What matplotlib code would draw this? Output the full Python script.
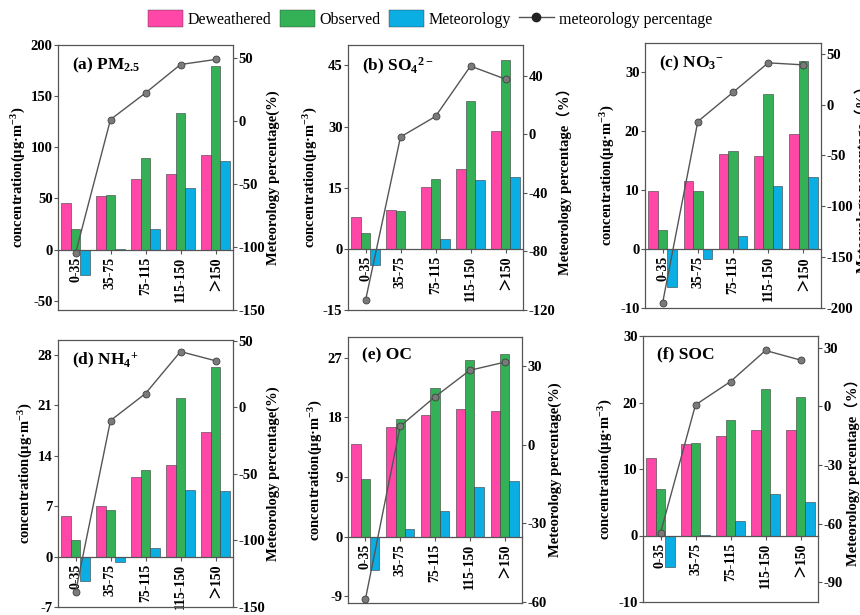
import numpy as np
import matplotlib
matplotlib.use("Agg")
import matplotlib.pyplot as plt
from matplotlib.patches import Patch
from matplotlib.lines import Line2D

plt.rcParams['font.family'] = ['Liberation Serif', 'Noto Sans CJK SC']
plt.rcParams['font.weight'] = 'bold'
plt.rcParams['axes.unicode_minus'] = False
plt.rcParams['mathtext.fontset'] = 'custom'
plt.rcParams['mathtext.rm'] = 'Liberation Serif:bold'
plt.rcParams['mathtext.it'] = 'Liberation Serif:bold'
plt.rcParams['mathtext.bf'] = 'Liberation Serif:bold'

categories = ['0-35', '35-75', '75-115', '115-150', '＞150']

# values
pm25_dew = [45.5, 52.7, 69, 74, 92.4]
pm25_obs = [20, 53, 90, 134, 179.5]
pm25_met = [-24.4, 0.6, 20, 60, 87]
pm25_pct = [-105, 1.3, 22.4, 45, 49]

so4_dew = [7.8, 9.5, 15.2, 19.6, 28.9]
so4_obs = [3.8, 9.2, 17.2, 36.3, 46.2]
so4_met = [-3.9, -0.1, 2.3, 16.8, 17.5]
so4_pct = [-113.5, -1.8, 12.2, 46.6, 37.7]

no3_dew = [9.8, 11.5, 16.1, 15.8, 19.5]
no3_obs = [3.3, 9.8, 16.7, 26.4, 32.0]
no3_met = [-6.4, -1.6, 2.2, 10.7, 12.2]
no3_pct = [-195, -16.7, 12, 41, 39]

nh4_dew = [5.7, 7.1, 11.0, 12.7, 17.3]
nh4_obs = [2.3, 6.5, 12.1, 22.1, 26.4]
nh4_met = [-3.4, -0.7, 1.2, 9.3, 9.1]
nh4_pct = [-139, -10, 10.3, 41.8, 34.9]

oc_dew = [13.9, 16.5, 18.4, 19.2, 19.0]
oc_obs = [8.7, 17.8, 22.4, 26.7, 27.5]
oc_met = [-5.1, 1.2, 3.9, 7.5, 8.4]
oc_pct = [-59, 7.0, 18.2, 28.3, 31.4]

soc_dew = [11.7, 13.7, 15.0, 15.8, 15.8]
soc_obs = [7.0, 13.9, 17.4, 22.1, 20.9]
soc_met = [-4.8, 0.1, 2.2, 6.3, 5.1]
soc_pct = [-64.7, 0.8, 12.7, 28.6, 23.7]

titles = ['(a) PM$_{2.5}$', '(b) SO$_4$$^{2-}$', '(c) NO$_3$$^{-}$',
          '(d) NH$_4$$^{+}$', '(e) OC', '(f) SOC']
right_labels = ['Meteorology percentage(%)', 'Meteorology percentage（%）',
                'Meteorology percentage（%）', 'Meteorology percentage(%)',
                'Meteorology percentage(%)', 'Meteorology percentage（%）']

PINK = '#FF47A8'
GREEN = '#34B157'
BLUE = '#0BAEE3'
SPINE = '#555555'

# axes boxes in pixels: left, top, right, bottom
boxes = [(58, 45, 233, 310), (348, 45, 523, 310), (645, 43, 821, 308),
         (58, 340, 233, 607), (348, 337, 522, 603), (643, 336, 818, 602)]
left_lims = [(-59, 200), (-15, 50), (-10, 35), (-7, 30.1), (-10, 30.1), (-10, 30)]
right_lims = [(-150, 60.5), (-120, 61), (-200, 60.5), (-150, 50.5), (-60.4, 41), (-100, 36)]
left_ticks = [[-50, 0, 50, 100, 150, 200], [-15, 0, 15, 30, 45], [-10, 0, 10, 20, 30],
              [-7, 0, 7, 14, 21, 28], [-9, 0, 9, 18, 27], [-10, 0, 10, 20, 30]]
right_ticks = [[-150, -100, -50, 0, 50], [-120, -80, -40, 0, 40],
               [-200, -150, -100, -50, 0, 50], [-150, -100, -50, 0, 50],
               [-60, -30, 0, 30], [-90, -60, -30, 0, 30]]

panels = [(pm25_dew, pm25_obs, pm25_met, pm25_pct),
          (so4_dew, so4_obs, so4_met, so4_pct),
          (no3_dew, no3_obs, no3_met, no3_pct),
          (nh4_dew, nh4_obs, nh4_met, nh4_pct),
          (oc_dew, oc_obs, oc_met, oc_pct),
          (soc_dew, soc_obs, soc_met, soc_pct)]

W, H = 860, 615
fig = plt.figure(figsize=(8.6, 6.15), dpi=100)

x = np.arange(len(categories))
w = 0.27

for i, (dew, obs, met, pct) in enumerate(panels):
    l, t, r, b = boxes[i]
    ax = fig.add_axes([l / W, 1 - b / H, (r - l) / W, (b - t) / H])
    ax.bar(x - w, dew, w, color=PINK, edgecolor='#3a3a3a', linewidth=0.4, zorder=2)
    ax.bar(x, obs, w, color=GREEN, edgecolor='#3a3a3a', linewidth=0.4, zorder=2)
    ax.bar(x + w, met, w, color=BLUE, edgecolor='#3a3a3a', linewidth=0.4, zorder=2)
    ax.set_xlim(-0.5, 4.5)
    ax.set_ylim(*left_lims[i])
    ax.set_yticks(left_ticks[i])
    ax.set_xticks(x)
    ax.set_xticklabels(categories, fontsize=10.5, fontweight='bold')
    ax.tick_params(axis='x', labelrotation=90, length=3, width=0.8, color=SPINE, pad=2)
    ax.tick_params(axis='y', labelsize=10.5, length=3, width=0.8, color=SPINE, pad=1)
    ax.spines['bottom'].set_position(('data', 0))
    for s in ax.spines.values():
        s.set_color(SPINE)
        s.set_linewidth(0.9)
    ax.plot([0, 1], [0, 0], transform=ax.transAxes, color=SPINE, lw=0.9, clip_on=False)
    ax.set_ylabel('concentration(μg·m$^{-3}$)', fontsize=10.5, fontweight='bold', labelpad=2)
    ax.text(0.08, 0.96, titles[i], transform=ax.transAxes, fontsize=12.5,
            fontweight='bold', va='top', ha='left')

    ax2 = ax.twinx()
    ax2.plot(x, pct, color='#555555', lw=1.0, marker='o', markersize=5,
             markerfacecolor='#7a7a7a', markeredgecolor='#404040', markeredgewidth=0.6,
             zorder=3)
    ax2.set_ylim(*right_lims[i])
    ax2.set_yticks(right_ticks[i])
    ax2.tick_params(axis='y', labelsize=10.5, length=3, width=0.8, color=SPINE, pad=1)
    for s in ax2.spines.values():
        s.set_visible(False)
    ax2.set_ylabel(right_labels[i], fontsize=10.5, fontweight='bold', labelpad=1)

handles = [Patch(facecolor=PINK, edgecolor='#3a3a3a', linewidth=0.3),
           Patch(facecolor=GREEN, edgecolor='#3a3a3a', linewidth=0.3),
           Patch(facecolor=BLUE, edgecolor='#3a3a3a', linewidth=0.3),
           Line2D([0], [0], color='#555555', lw=1, marker='o', markersize=6,
                  markerfacecolor='#222222', markeredgecolor='#222222')]
labels = ['Deweathered', 'Observed', 'Meteorology', 'meteorology percentage']
fig.legend(handles, labels, loc='center', bbox_to_anchor=(0.5, 1 - 19 / H), ncol=4,
           frameon=False, handlelength=2.2, handleheight=1.3, handletextpad=0.3,
           columnspacing=0.5, prop={'family': 'Liberation Serif', 'size': 11.5,
                                     'weight': 'normal'})

fig.savefig('out.png', dpi=100)
